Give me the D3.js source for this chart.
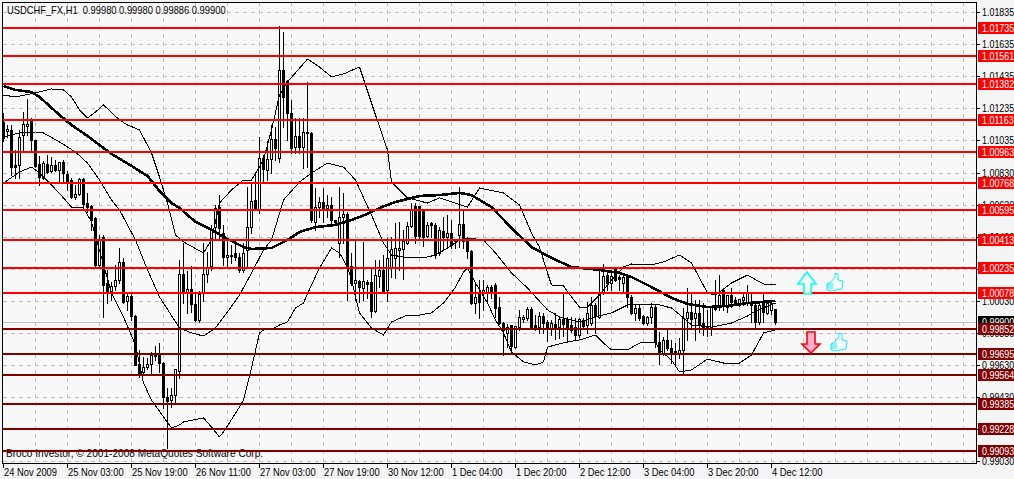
<!DOCTYPE html>
<html><head><meta charset="utf-8">
<script src="https://cdn.jsdelivr.net/npm/d3@7"></script>
<style>
html,body{margin:0;padding:0;background:#f4f4f4;overflow:hidden}
svg{display:block}
text{font-family:"Liberation Sans",Arial,sans-serif;font-size:10.5px;fill:#000}
</style></head><body><div id="chart"></div>
<script>
// Prices are in points (1 point = 0.00001)
const highs=[101204,101129,101129,100973,101098,101210,101291,101173,101035,100935,100904,100941,100929,100910,100898,100910,100841,100798,100754,100798,100798,100704,100629,100554,100441,100441,100223,100148,100254,100360,100298,100079,100079,99941,99723,99679,99673,99710,99748,99766,99648,99485,99485,99604,100285,100391,100216,100248,100073,100091,100391,100335,100504,100629,100691,100504,100410,100379,100410,100329,100391,100741,100766,100829,101054,100941,101029,101129,101116,101748,101710,101410,101285,101173,101173,101173,101398,101085,100735,100679,100735,100691,100679,100535,100741,100704,100585,100329,100410,100160,100398,100160,100241,100285,100285,100316,100423,100429,100516,100523,100473,100523,100641,100641,100623,100598,100523,100523,100516,100491,100554,100566,100535,100410,100741,100598,100423,100348,100141,100160,100160,100129,100129,100141,100054,99898,99885,99879,99873,99973,99941,99991,99991,99941,99960,99954,99910,99910,99954,99929,100073,99929,99929,99923,99923,99923,100023,100054,100016,100223,100260,100223,100223,100229,100191,100191,100179,100066,100010,100010,99941,99935,100016,100004,99835,99804,99860,99785,99766,99798,99985,100110,100079,100035,100035,100016,99973,99991,100160,100191,100110,100066,100110,100054,100041,100079,100129,100079,100029,100023,100079,100035,100029,99980];
const lows=[101029,101054,100816,100798,100798,100973,101066,100960,100866,100754,100791,100829,100835,100841,100779,100779,100723,100673,100666,100691,100610,100585,100473,100241,100248,99929,100016,100035,100098,100141,100016,99973,99910,99629,99554,99579,99604,99566,99660,99585,99360,99110,99366,99391,99548,100016,99954,99960,99904,99898,100029,100148,100223,100410,100410,100254,100235,100266,100285,100210,100210,100241,100454,100598,100579,100766,100785,100829,100910,100898,101116,101035,100954,100954,100954,100860,100866,100523,100473,100554,100523,100554,100516,100516,100304,100391,100035,100129,100035,100023,100035,100048,99929,99960,100116,100085,100029,100179,100173,100223,100166,100385,100491,100391,100410,100373,100429,100429,100298,100316,100348,100360,100360,100360,100366,100360,100298,100010,99954,99923,99973,100016,100048,99929,99885,99691,99741,99704,99735,99848,99898,99910,99854,99848,99829,99829,99779,99816,99791,99798,99810,99773,99835,99785,99804,99866,99829,99879,99829,99923,100073,100098,100098,100154,100098,100085,99991,99948,99910,99910,99885,99879,99891,99741,99635,99691,99723,99641,99635,99673,99579,99785,99866,99785,99835,99816,99810,99816,99973,99973,99973,99960,99991,100004,99998,100004,100004,99898,99866,99885,99898,99948,99948,99886];
const opens=[101148,101091,101098,100879,100879,101066,101123,101160,101035,100885,100798,100885,100841,100879,100848,100898,100823,100785,100679,100698,100791,100641,100623,100548,100254,100429,100141,100085,100123,100160,100273,100029,100060,99935,99635,99585,99616,99635,99698,99691,99641,99429,99410,99441,99591,100198,100079,100104,100010,99910,100079,100198,100248,100491,100616,100454,100304,100316,100329,100304,100223,100348,100491,100660,100604,100923,100848,100916,101041,100923,101473,101404,101204,100991,101060,100991,101079,101079,100523,100616,100648,100610,100629,100535,100391,100554,100573,100248,100141,100154,100110,100148,100148,99966,100185,100223,100098,100241,100298,100348,100354,100391,100498,100623,100623,100591,100435,100516,100504,100329,100466,100429,100454,100410,100441,100510,100404,100341,100016,100073,100085,100085,100116,100129,99991,99891,99829,99879,99741,99866,99916,99923,99979,99879,99866,99935,99898,99860,99885,99866,99916,99916,99879,99866,99816,99910,99879,99891,100004,99929,100079,100191,100141,100229,100179,100141,100179,100054,99954,99985,99935,99891,99929,99991,99773,99704,99785,99735,99716,99698,99723,99923,99960,99923,99954,99891,99873,99866,99991,99991,100098,99991,100066,100035,100004,100035,100023,100023,100004,99898,100023,99954,99973,99980];
const closes=[101048,101104,100866,100866,101054,101135,101135,101035,100873,100804,100891,100835,100879,100848,100898,100829,100779,100679,100698,100791,100635,100616,100535,100254,100410,100129,100085,100123,100160,100273,100023,100060,99935,99629,99579,99616,99635,99691,99685,99641,99429,99404,99441,99604,100198,100079,100104,100010,99910,100073,100198,100241,100479,100610,100485,100304,100316,100310,100304,100223,100329,100491,100654,100610,100923,100854,100916,101041,100985,101473,101304,101204,100985,101060,100991,101085,101085,100535,100616,100648,100604,100629,100535,100523,100554,100573,100241,100141,100160,100116,100154,100135,99966,100191,100223,100091,100298,100354,100360,100360,100404,100498,100604,100435,100435,100429,100504,100504,100316,100473,100429,100454,100379,100404,100510,100404,100341,100016,100054,100023,100098,100116,100085,99985,99891,99848,99866,99748,99873,99929,99929,99979,99866,99866,99935,99891,99860,99891,99866,99916,99885,99866,99848,99816,99916,99873,99954,100004,99935,100085,100185,100141,100185,100160,100166,100179,100054,99954,99985,99923,99891,99929,99991,99773,99704,99785,99735,99704,99704,99723,99923,99960,99916,99954,99879,99860,99860,99991,99979,100066,100004,100066,100023,100016,100041,100054,100079,100004,99898,100004,99960,100016,100016,99900];

const maBars=[0,3,7,9,14,17,21,24,27,32,36,39,42,44,48,52,56,60,62,67,71,74,78,83,87,91,94,98,104,109,114,117,122,127,132,137,142,149,154,157,162,167,171,176,181,186,193];
const maValues=[101373,101348,101335,101304,101191,101129,101060,101004,100948,100873,100810,100716,100641,100610,100523,100473,100416,100366,100354,100360,100410,100460,100491,100504,100535,100573,100610,100648,100685,100691,100704,100691,100616,100485,100366,100298,100241,100223,100204,100179,100116,100048,100010,99991,99998,100016,100029];

const upperBars=[0,3,8,12,15,17,19,21,23,25,29,31,34,37,39,41,43,45,50,52,54,57,60,62,65,67,69,71,76,79,82,85,89,93,96,97,101,106,109,116,119,125,129,132,134,136,137,140,142,144,146,149,152,155,157,162,165,169,172,176,178,182,186,190,193];
const upperValues=[101316,101304,101329,101354,101348,101304,101223,101173,101210,101254,101160,101129,101098,100954,100804,100641,100441,100398,100329,100410,100641,100723,100785,100785,100910,101098,101316,101398,101541,101491,101429,101448,101491,101191,100973,100773,100673,100641,100673,100616,100735,100704,100629,100454,100366,100204,100129,100123,100054,99991,99991,100066,100160,100241,100260,100254,100273,100316,100266,100079,100066,100141,100191,100135,100129];

const middleBars=[0,4,8,10,14,18,21,24,27,29,33,36,39,44,47,50,53,56,59,62,65,67,70,74,77,81,85,88,92,95,97,100,105,108,111,114,116,120,123,127,131,136,139,144,148,152,156,164,167,170,172,177,182,186,188,193];
const middleValues=[101054,101079,101085,101079,101023,100960,100891,100785,100660,100598,100410,100223,100054,99860,99829,99810,99860,99960,100066,100204,100348,100410,100660,100773,100829,100891,100866,100785,100566,100391,100316,100304,100298,100316,100360,100410,100423,100410,100329,100204,100110,99973,99929,99898,99929,99954,100004,100004,99985,99923,99879,99866,99891,99935,99966,100016];

const lowerBars=[0,4,7,9,12,15,17,20,22,27,30,33,35,37,40,42,44,45,50,52,54,55,59,60,62,64,65,67,69,71,73,75,77,79,82,84,86,87,89,92,95,97,101,104,107,110,113,115,116,118,121,123,125,127,130,133,135,136,141,144,148,150,152,156,159,163,164,167,169,172,176,181,184,187,190,193];
const lowerValues=[100766,100835,100866,100829,100754,100673,100616,100610,100523,100079,99929,99754,99516,99410,99304,99235,99254,99273,99298,99241,99179,99210,99366,99410,99610,99829,99848,99848,99879,99898,99985,100016,100129,100235,100360,100329,100241,100160,99954,99860,99816,99898,99941,99941,99954,100016,100116,100210,100235,100141,100016,99910,99829,99710,99648,99629,99648,99741,99773,99785,99816,99766,99723,99723,99766,99773,99723,99660,99585,99598,99666,99635,99641,99691,99829,99848];

const resistanceLevels=["1.01735","1.01561","1.01382","1.01163","1.00963","1.00768","1.00595","1.00413","1.00235","1.00078"];
const supportLevels=["0.99852","0.99695","0.99564","0.99385","0.99228","0.99093"];
const priceTicks=["1.01835","1.01635","1.01435","1.01235","1.01035","1.00830","1.00630","1.00430","1.00230","1.00030","0.99830","0.99630","0.99430","0.99230","0.99030"];
const timeTickBars=[0,16,32,48,64,80,96,112,128,144,160,176,192];
const timeTickLabels=["24 Nov 2009","25 Nov 03:00","25 Nov 19:00","26 Nov 11:00","27 Nov 03:00","27 Nov 19:00","30 Nov 12:00","1 Dec 04:00","1 Dec 20:00","2 Dec 12:00","3 Dec 04:00","3 Dec 20:00","4 Dec 12:00"];
const lastPrice="0.99900";
const titleText="USDCHF_FX,H1  0.99980 0.99980 0.99886 0.99900";
const creditText="Broco Investor, © 2001-2008 MetaQuotes Software Corp.";

const W=1014,H=479,plotL=3,plotR=976,plotT=2,plotB=463;
const pt=v=>v/1e5;
const x=d3.scaleLinear().domain([0,243]).range([3,975]);
const y=d3.scaleLinear().domain([1.01835,0.9903]).range([12,460.8]);
const ry=v=>Math.round(y(v));
// Narrows a label to the tight Tahoma-like set width of the reference.
const squeeze=(sel,f)=>sel.each(function(){
  const n=this.getComputedTextLength();
  d3.select(this).attr("textLength",n*f).attr("lengthAdjust","spacingAndGlyphs");
});

const svg=d3.select("#chart").append("svg").attr("width",W).attr("height",H);
svg.append("rect").attr("x",plotL).attr("y",plotT).attr("width",plotR-plotL).attr("height",plotB-plotT).attr("fill","#f8f8f8");

// dashed grid
const grid=svg.append("g").attr("stroke","#c0c0c0").attr("stroke-dasharray","4 4").attr("stroke-width",1);
grid.selectAll(".gy").data(priceTicks).join("line").attr("class","gy")
 .attr("x1",plotL).attr("x2",plotR).attr("y1",d=>ry(+d)+.5).attr("y2",d=>ry(+d)+.5);
grid.selectAll(".gx").data(d3.range(8,244,8)).join("line").attr("class","gx")
 .attr("x1",d=>x(d)+.5).attr("x2",d=>x(d)+.5).attr("y1",plotT).attr("y2",plotB);

// last price line
svg.append("line").attr("x1",plotL).attr("x2",plotR).attr("y1",ry(+lastPrice)+.5).attr("y2",ry(+lastPrice)+.5).attr("stroke","#c0c0c0");

// credit and title
svg.append("text").attr("x",6).attr("y",456.5).text(creditText).style("font-size","10.6px").call(squeeze,.955);
svg.append("text").attr("x",7).attr("y",14).attr("xml:space","preserve").text(titleText).style("font-size","10.8px").call(squeeze,.865);

// candles
const cg=svg.append("g").attr("shape-rendering","crispEdges");
const idx=d3.range(opens.length);
cg.selectAll(".w").data(idx).join("line").attr("class","w")
 .attr("x1",i=>x(i)+.5).attr("x2",i=>x(i)+.5)
 .attr("y1",i=>ry(pt(highs[i]))).attr("y2",i=>ry(pt(lows[i]))+1).attr("stroke","#000");
cg.selectAll(".b").data(idx).join("rect").attr("class","b")
 .attr("x",i=>x(i)-.5).attr("width",2)
 .attr("y",i=>ry(pt(Math.max(opens[i],closes[i])))+.5)
 .attr("height",i=>Math.max(1,ry(pt(Math.min(opens[i],closes[i])))-ry(pt(Math.max(opens[i],closes[i])))))
 .attr("fill",i=>closes[i]>=opens[i]?"#fff":"#000").attr("stroke","#000");

// bands and moving average
const path=(bars,vals,w)=>svg.append("path")
 .attr("d",d3.line().x((d,i)=>x(bars[i])+.5).y(d=>y(pt(d)))(vals))
 .attr("fill","none").attr("stroke","#000").attr("stroke-width",w).attr("stroke-linejoin","round").attr("shape-rendering","crispEdges");
path(upperBars,upperValues,1);
path(middleBars,middleValues,1);
path(lowerBars,lowerValues,1);
path(maBars,maValues,2.6);

// horizontal levels
const lv=svg.append("g").attr("shape-rendering","crispEdges");
lv.selectAll(".r").data(resistanceLevels).join("rect").attr("class","r").attr("x",plotL).attr("width",plotR-plotL).attr("y",d=>ry(+d)-1).attr("height",2).attr("fill","#ff0000");
lv.selectAll(".s").data(supportLevels).join("rect").attr("class","s").attr("x",plotL).attr("width",plotR-plotL).attr("y",d=>ry(+d)-1).attr("height",2).attr("fill","#800000");

// frame
svg.append("path").attr("d",`M${plotL-.5} ${plotT}V${plotB+.5}H${plotR+.5}V${plotT+.5}H${plotL}`).attr("fill","none").attr("stroke","#000").attr("shape-rendering","crispEdges");

// axis ticks and labels
const ax=svg.append("g").attr("shape-rendering","crispEdges").attr("stroke","#000");
ax.selectAll(".ty").data(priceTicks).join("line").attr("class","ty").attr("x1",plotR).attr("x2",plotR+4).attr("y1",d=>ry(+d)+.5).attr("y2",d=>ry(+d)+.5);
ax.selectAll(".tx").data(timeTickBars).join("line").attr("class","tx").attr("x1",d=>x(d)+.5).attr("x2",d=>x(d)+.5).attr("y1",plotB).attr("y2",plotB+5);
svg.selectAll(".ly").data(priceTicks).join("text").attr("class","ly").attr("x",982).attr("y",d=>ry(+d)+4).text(d=>d).call(squeeze,.85);
svg.selectAll(".lx").data(timeTickBars).join("text").attr("class","lx").attr("x",d=>x(d)+1).attr("y",475.5).text((d,i)=>timeTickLabels[i]).call(squeeze,.89);

// price tags
const tag=(v,c)=>{const g=svg.append("g");
 g.append("rect").attr("x",978).attr("width",36).attr("y",ry(+v)-6).attr("height",12).attr("fill",c).attr("shape-rendering","crispEdges");
 g.append("text").attr("x",982).attr("y",ry(+v)+4).text(v).style("fill","#fff").call(squeeze,.85);};
tag(lastPrice,"#000");
resistanceLevels.forEach(v=>tag(v,"#ff0000"));
supportLevels.forEach(v=>tag(v,"#800000"));

// signal arrows and thumbs
svg.append("path").attr("d","M807 272L816 284H811V294H804V284H798Z").attr("fill","#f8f8f8").attr("stroke","#00ffff").attr("stroke-width",1.6);
svg.append("path").attr("d","M811 353L820 344H815V332H807V344H802Z").attr("fill","#ffb0d0").attr("stroke","#ff0000").attr("stroke-width",1.6);
const thumb="M4 9L8 4L8 0L11 1L11 7L16 8L15 16L4 18L0 17L0 11Z M0 11H6 M0 13H6 M0 15H6";
svg.append("path").attr("d",thumb).attr("transform","translate(827,273)").attr("fill","#f4ffff").attr("stroke","#00e8f0").attr("stroke-width",.9);
svg.append("path").attr("d",thumb).attr("transform","translate(831,333)").attr("fill","#f4ffff").attr("stroke","#00e8f0").attr("stroke-width",.9);
</script></body></html>
